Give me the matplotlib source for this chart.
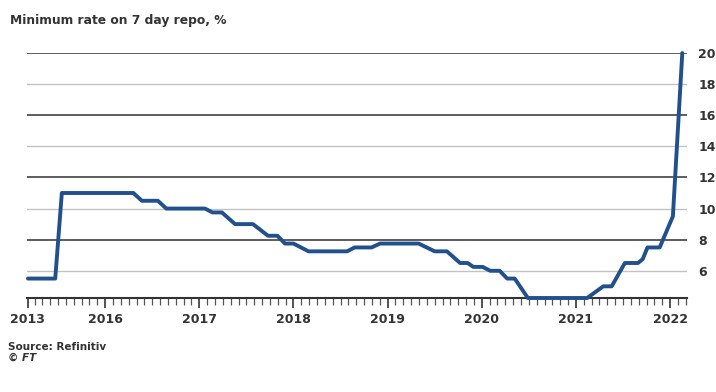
import numpy as np
import matplotlib
matplotlib.use('Agg')
import matplotlib.pyplot as plt

# Rate levels (decimal year, %)
years = [2015.18, 2015.47, 2015.54, 2016.30, 2016.39, 2016.56, 2016.65, 2017.06,
         2017.14, 2017.24, 2017.38, 2017.57, 2017.73, 2017.83, 2017.91, 2018.00,
         2018.16, 2018.57, 2018.65, 2018.83, 2018.92, 2019.33, 2019.50, 2019.63,
         2019.77, 2019.85, 2019.91, 2020.01, 2020.09, 2020.19, 2020.27, 2020.35,
         2020.49, 2021.12, 2021.29, 2021.38, 2021.52, 2021.66, 2021.71, 2021.76,
         2021.89, 2021.96, 2022.03, 2022.13]
rate = [5.5, 5.5, 11.0, 11.0, 10.5, 10.5, 10.0, 10.0,
        9.75, 9.75, 9.0, 9.0, 8.25, 8.25, 7.75, 7.75,
        7.25, 7.25, 7.5, 7.5, 7.75, 7.75, 7.25, 7.25,
        6.5, 6.5, 6.25, 6.25, 6.0, 6.0, 5.5, 5.5,
        4.25, 4.25, 5.0, 5.0, 6.5, 6.5, 6.75, 7.5,
        7.5, 8.5, 9.5, 20.0]

xtick_pos = [2015.18, 2016, 2017, 2018, 2019, 2020, 2021, 2022]
xtick_labels = ['2013', '2016', '2017', '2018', '2019', '2020', '2021', '2022']
ytick_vals = [6, 8, 10, 12, 14, 16, 18, 20]

plt.rcParams['font.family'] = ['DejaVu Sans']

fig = plt.figure(figsize=(7.16, 3.92), dpi=100)
ax = fig.add_axes([0.0377, 0.2398, 0.9218, 0.625])

# Alternating dark / light gridlines
for v in ytick_vals:
    dark = (v % 4 == 0)
    ax.axhline(v, color='#505050' if dark else '#c2c2c2',
               lw=1.3 if dark else 1.0, zorder=1)

ax.plot(years, rate, color='#21508c', lw=2.8, solid_joinstyle='round',
        solid_capstyle='round', zorder=3, clip_on=False)

ax.set_xlim(2015.17, 2022.18)
ax.set_ylim(4.25, 20)

for s in ['top', 'left', 'right']:
    ax.spines[s].set_visible(False)
ax.spines['bottom'].set_color('#333333')
ax.spines['bottom'].set_linewidth(1.5)
ax.spines['bottom'].set_zorder(2)

ax.set_xticks(xtick_pos)
ax.set_xticklabels(xtick_labels, fontsize=9, fontweight='bold', color='#333333')
months = np.arange(2015.25, 2022.2, 1 / 12)
ax.set_xticks(months, minor=True)
ax.tick_params(axis='x', which='major', length=7, width=1.2, color='#333333', pad=4)
ax.tick_params(axis='x', which='minor', length=5, width=0.9, color='#555555')

ax.yaxis.tick_right()
ax.set_yticks(ytick_vals)
ax.set_yticklabels([str(v) for v in ytick_vals], fontsize=9, fontweight='bold',
                   color='#333333')
ax.tick_params(axis='y', length=0, pad=8)

fig.text(0.014, 0.948, 'Minimum rate on 7 day repo, %', fontsize=8.8,
         fontweight='bold', color='#333333', va='center')
fig.text(0.011, 0.115, 'Source: Refinitiv', fontsize=7.5, fontweight='bold',
         color='#333333', va='center')
fig.text(0.011, 0.088, '© FT', fontsize=7.5, fontweight='bold', style='italic',
         color='#333333', va='center')

plt.savefig('out.png', dpi=100)
